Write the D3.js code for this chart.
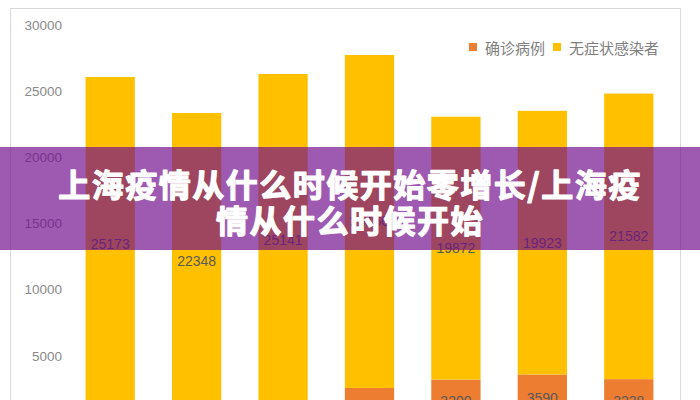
<!DOCTYPE html>
<html>
<head>
<meta charset="utf-8">
<script src="https://cdn.jsdelivr.net/npm/d3@7/dist/d3.min.js"></script>
<style>
  html, body { margin: 0; padding: 0; background: #fff; }
  svg { display: block; }
</style>
</head>
<body>
<svg id="chart" width="700" height="400"></svg>
<script>
// data (x-axis labels are cut off below the frame)
var categories = ["1", "2", "3", "4", "5", "6", "7"];
var confirmed = [898, 1003, 1157, 2573, 3200, 3590, 3238];
var asymptomatic = [25173, 22348, 25141, 25160, 19872, 19923, 21582];
var seriesNames = ["确诊病例", "无症状感染者"];
var yTicks = [5000, 10000, 15000, 20000, 25000, 30000];
var titleLines = ["上海疫情从什么时候开始零增长/上海疫", "情从什么时候开始"];

var colors = ["#ED7D31", "#FFC000"];
var numFont = "'Liberation Sans', Arial, sans-serif";
var cjkFont = "'Noto Sans CJK SC', sans-serif";

var svg = d3.select("#chart");

// chart frame
svg.append("rect")
    .attr("x", 10.5)
    .attr("y", 8.5)
    .attr("width", 670)
    .attr("height", 420)
    .attr("fill", "#fff")
    .attr("stroke", "#d9d9d9");

var x = d3.scaleBand()
    .domain(categories)
    .range([67, 672])
    .paddingInner(0.43)
    .paddingOuter(0.215);

var y = d3.scaleLinear()
    .domain([0, 30000])
    .range([422, 25]);

// y axis labels only, no line
var yAxis = svg.append("g")
    .attr("transform", "translate(62,0)")
    .call(d3.axisLeft(y).tickValues(yTicks).tickFormat(d3.format("d")).tickSize(0).tickPadding(0));
yAxis.select(".domain").remove();
yAxis.selectAll("text")
    .style("font-family", numFont)
    .style("font-size", "13.5px")
    .attr("fill", "#8a8a8a");

// x axis sits below the visible area
var xAxis = svg.append("g")
    .attr("transform", "translate(0," + y(0) + ")")
    .call(d3.axisBottom(x).tickSize(0));
xAxis.select(".domain").attr("stroke", "#d9d9d9");

var rows = categories.map(function (c, i) {
    return { cat: c, confirmed: confirmed[i], asymptomatic: asymptomatic[i] };
});
var stack = d3.stack().keys(["confirmed", "asymptomatic"])(rows);

var layers = svg.selectAll(".layer")
    .data(stack)
    .enter().append("g")
    .attr("class", "layer")
    .attr("fill", function (d, i) { return colors[i]; });

layers.selectAll("rect")
    .data(function (d) { return d; })
    .enter().append("rect")
    .attr("x", function (d) { return x(d.data.cat); })
    .attr("y", function (d) { return y(d[1]); })
    .attr("width", x.bandwidth())
    .attr("height", function (d) { return y(d[0]) - y(d[1]); });

layers.selectAll("text")
    .data(function (d) { return d; })
    .enter().append("text")
    .attr("x", function (d) { return x(d.data.cat) + x.bandwidth() / 2; })
    .attr("y", function (d) { return (y(d[0]) + y(d[1])) / 2; })
    .attr("text-anchor", "middle")
    .attr("dominant-baseline", "central")
    .attr("fill", "#595959")
    .style("font-family", numFont)
    .style("font-size", "14px")
    .text(function (d) { return d[1] - d[0]; });

// legend
var legend = svg.append("g").attr("transform", "translate(469,47)");
var legendX = [0, 84];
seriesNames.forEach(function (name, i) {
    var item = legend.append("g").attr("transform", "translate(" + legendX[i] + ",0)");
    item.append("rect")
        .attr("x", 0)
        .attr("y", -4)
        .attr("width", 8)
        .attr("height", 8)
        .attr("fill", colors[i]);
    item.append("text")
        .attr("x", 16)
        .attr("y", 0)
        .attr("dominant-baseline", "central")
        .attr("fill", "#7f7f7f")
        .style("font-family", cjkFont)
        .style("font-size", "15px")
        .text(name);
});

// overlay banner
svg.append("rect")
    .attr("x", 0)
    .attr("y", 147)
    .attr("width", 700)
    .attr("height", 103)
    .attr("fill", "rgb(112,12,140)")
    .attr("fill-opacity", 0.68);

svg.selectAll(".title-line")
    .data(titleLines)
    .enter().append("text")
    .attr("class", "title-line")
    .attr("x", 350)
    .attr("y", function (d, i) { return 183 + i * 36; })
    .attr("text-anchor", "middle")
    .attr("dominant-baseline", "central")
    .attr("fill", "#fff")
    .attr("stroke", "#fff")
    .attr("stroke-width", 1.2)
    .attr("stroke-linejoin", "round")
    .style("font-family", cjkFont)
    .style("font-weight", "700")
    .style("font-size", "32px")
    .style("letter-spacing", "1.5px")
    .text(function (d) { return d; });
</script>
</body>
</html>
